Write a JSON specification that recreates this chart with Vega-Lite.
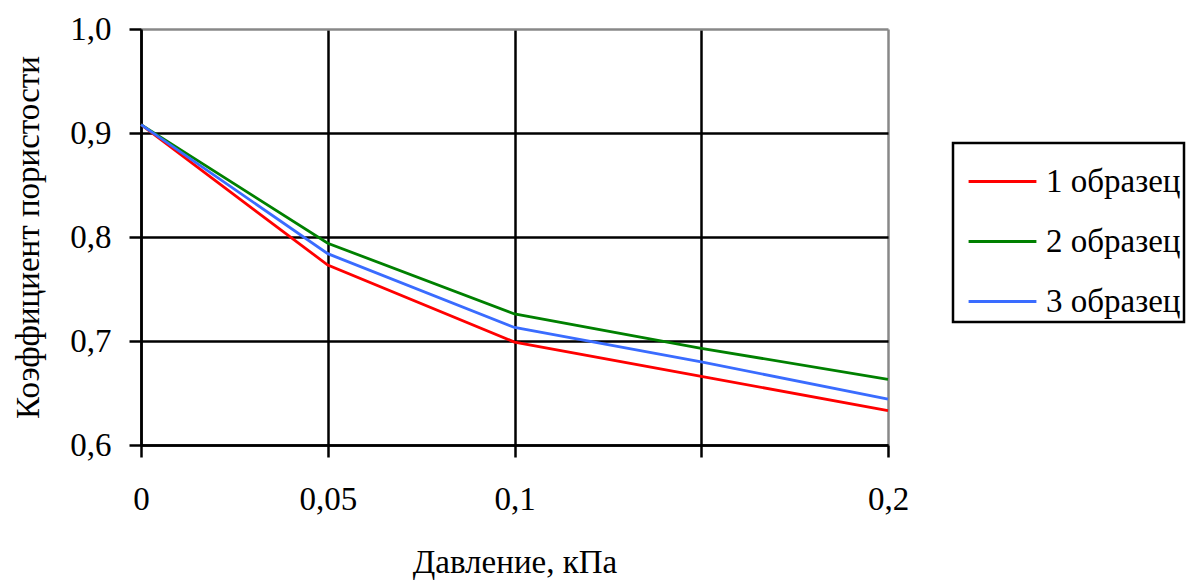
{
  "$schema": "https://vega.github.io/schema/vega-lite/v6.json",
  "width": 747,
  "height": 416,
  "autosize": {"type": "none"},
  "padding": {"left": 141, "top": 29, "right": 312, "bottom": 138},
  "background": "white",
  "config": {
    "font": "Liberation Serif",
    "view": {"stroke": null},
    "axis": {
      "labelFont": "Liberation Serif",
      "titleFont": "Liberation Serif",
      "labelColor": "black",
      "titleColor": "black",
      "titleFontWeight": "normal",
      "labelFontSize": 33,
      "titleFontSize": 33,
      "domainColor": "black",
      "domainWidth": 2.5,
      "tickColor": "black",
      "tickWidth": 2.5,
      "tickSize": 12,
      "gridWidth": 2.5
    },
    "legend": {
      "labelFont": "Liberation Serif",
      "labelFontSize": 33,
      "labelColor": "black"
    }
  },
  "data": {
    "values": [
      {"p": 0, "e": 0.908, "s": "1 образец"},
      {"p": 0.05, "e": 0.773, "s": "1 образец"},
      {"p": 0.1, "e": 0.699, "s": "1 образец"},
      {"p": 0.15, "e": 0.666, "s": "1 образец"},
      {"p": 0.2, "e": 0.633, "s": "1 образец"},
      {"p": 0, "e": 0.908, "s": "2 образец"},
      {"p": 0.05, "e": 0.794, "s": "2 образец"},
      {"p": 0.1, "e": 0.726, "s": "2 образец"},
      {"p": 0.15, "e": 0.693, "s": "2 образец"},
      {"p": 0.2, "e": 0.663, "s": "2 образец"},
      {"p": 0, "e": 0.908, "s": "3 образец"},
      {"p": 0.05, "e": 0.784, "s": "3 образец"},
      {"p": 0.1, "e": 0.713, "s": "3 образец"},
      {"p": 0.15, "e": 0.680, "s": "3 образец"},
      {"p": 0.2, "e": 0.644, "s": "3 образец"}
    ]
  },
  "mark": {"type": "line", "strokeWidth": 2.8},
  "encoding": {
    "x": {
      "field": "p",
      "type": "quantitative",
      "scale": {"domain": [0, 0.2], "nice": false, "zero": false},
      "axis": {
        "values": [0, 0.05, 0.1, 0.15, 0.2],
        "labelExpr": "abs(datum.value - 0.15) < 0.001 ? '' : replace(format(datum.value, '~g'), '.', ',')",
        "labelPadding": 26,
        "title": "Давление, кПа",
        "titlePadding": 30,
        "gridColor": {"condition": {"test": "datum.value > 0.199", "value": "#888888"}, "value": "black"},
        "labelFlush": false
      }
    },
    "y": {
      "field": "e",
      "type": "quantitative",
      "scale": {"domain": [0.6, 1.0], "nice": false, "zero": false},
      "axis": {
        "values": [0.6, 0.7, 0.8, 0.9, 1.0],
        "labelExpr": "replace(format(datum.value, '.1f'), '.', ',')",
        "labelPadding": 18,
        "title": "Коэффициент пористости",
        "titlePadding": 24,
        "gridColor": {"condition": {"test": "datum.value > 0.999", "value": "#888888"}, "value": "black"},
        "labelFlush": false
      }
    },
    "color": {
      "field": "s",
      "type": "nominal",
      "scale": {"domain": ["1 образец", "2 образец", "3 образец"], "range": ["#FF0000", "#008000", "#3A6CFF"]},
      "legend": {
        "title": null,
        "orient": "none",
        "legendX": 812,
        "legendY": 114,
        "symbolType": "stroke",
        "symbolSize": 4600,
        "symbolStrokeWidth": 3,
        "symbolOffset": 11,
        "strokeColor": "black",
        "padding": 3,
        "rowPadding": 7,
        "labelOffset": 8,
        "encode": {"legend": {"update": {"strokeWidth": {"value": 2.5}}}}
      }
    }
  }
}
